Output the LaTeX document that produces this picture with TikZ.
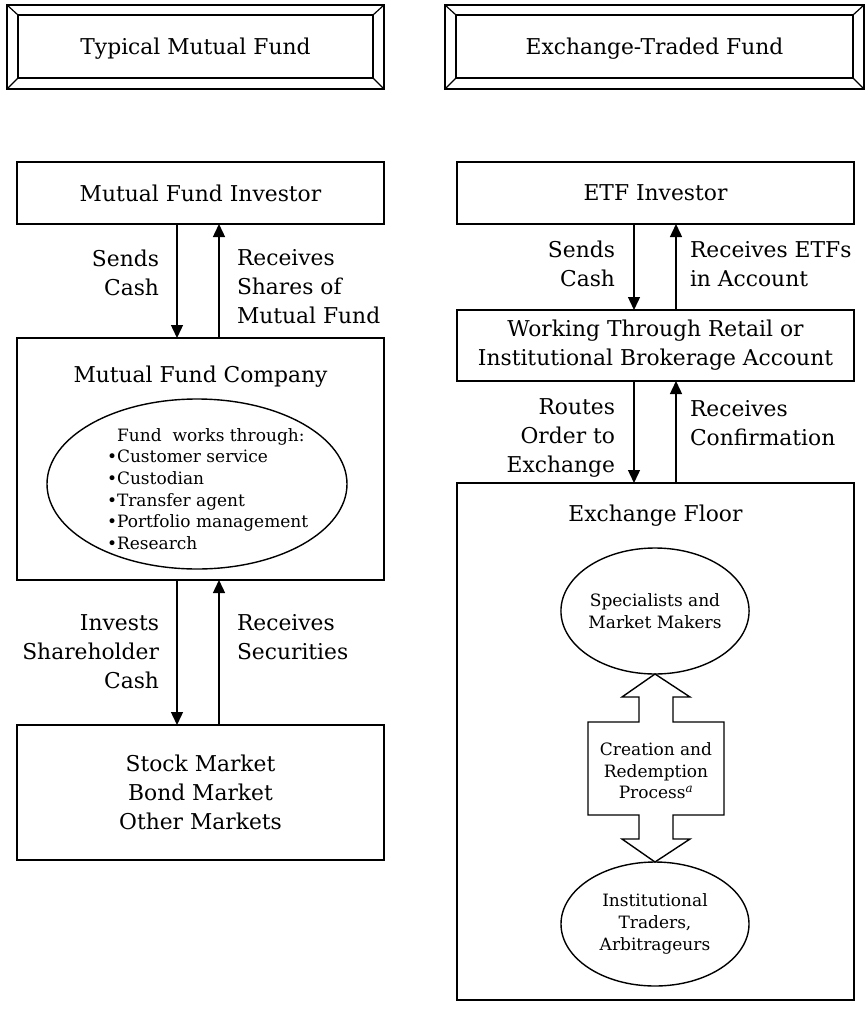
\documentclass[tikz,border=0pt]{standalone}
\usepackage{fontspec}
\setmainfont{DejaVu Serif}
\usetikzlibrary{arrows.meta,calc,shapes.geometric}
\newcommand\mainsize{\fontsize{21.8}{29}\selectfont}
\newcommand\ovalsize{\fontsize{17}{21.6}\selectfont}
\begin{document}
\begin{tikzpicture}[x=1pt,y=-1pt,
  every node/.style={inner sep=0pt, outer sep=0pt},
  frame/.style={draw, line width=1.6pt},
  bevel/.style={line width=1.2pt},
  box/.style={draw, line width=1.6pt, font=\mainsize, align=center},
  oval/.style={draw, ellipse, line width=1.4pt, font=\ovalsize, align=center},
  lbl/.style={font=\mainsize},
  flow/.style={line width=1.4pt, -{Triangle[length=13pt,width=12pt]}},
  bigarrow/.style={draw, line width=1.4pt, fill=white}
]
\path[use as bounding box] (0,0) rectangle (865,1009);

% ---------- bevelled title panels ----------
\foreach \name/\cx/\w/\txt in {t1/195.5/377/Typical Mutual Fund, t2/654.5/419/Exchange-Traded Fund}{
  \node[frame, minimum width=\w pt, minimum height=84pt] (\name) at (\cx,47) {};
  \node[lbl] (\name txt) at (\cx,49) {\txt};
  \coordinate (\name a) at ($(\name.north west)+(11,10)$);
  \coordinate (\name b) at ($(\name.south east)+(-11,-11)$);
  \draw[bevel] (\name a) rectangle (\name b);
  \draw[bevel] (\name.north west) -- (\name a);
  \draw[bevel] (\name.north east) -- (\name b |- \name a);
  \draw[bevel] (\name.south west) -- (\name a |- \name b);
  \draw[bevel] (\name.south east) -- (\name b);
}

% ---------- mutual fund side ----------
\node[box, minimum width=367pt, minimum height=62pt] (mfi) at (200.5,193) {Mutual Fund Investor};
\node[box, minimum width=367pt, minimum height=242pt] (mfc) at (200.5,459) {};
\node[lbl] (mfclbl) at (200.5,377) {Mutual Fund Company};
\node[oval, minimum width=300pt, minimum height=170pt] (svc) at (197,484) {};
\node[font=\ovalsize, align=left, anchor=west] (svctxt) at (107,489)
  {\hspace*{0.6em}Fund\ \ works through:\\•Customer service\\•Custodian\\•Transfer agent\\•Portfolio management\\•Research};
\node[box, minimum width=367pt, minimum height=135pt] (mkt) at (200.5,792.5)
  {Stock Market\\Bond Market\\Other Markets};

\coordinate (la) at (177,0);
\coordinate (lb) at (219,0);
\draw[flow] (la |- mfi.south) -- (la |- mfc.north);
\draw[flow] (lb |- mfc.north) -- (lb |- mfi.south);
\draw[flow] (la |- mfc.south) -- (la |- mkt.north);
\draw[flow] (lb |- mkt.north) -- (lb |- mfc.south);

\node[lbl, align=right, anchor=east] (sendl) at (159,272.5) {Sends\\Cash};
\node[lbl, align=left, anchor=west] (recvl) at (237,287) {Receives\\Shares of\\Mutual Fund};
\node[lbl, align=right, anchor=east] (invl) at (159,651.5) {Invests\\Shareholder\\Cash};
\node[lbl, align=left, anchor=west] (secl) at (237,637) {Receives\\Securities};

% ---------- ETF side ----------
\node[box, minimum width=397pt, minimum height=62pt] (etfi) at (655.5,193) {ETF Investor};
\node[box, minimum width=397pt, minimum height=71pt] (brk) at (655.5,345.5)
  {Working Through Retail or\\Institutional Brokerage Account};
\node[box, minimum width=397pt, minimum height=517pt] (flr) at (655.5,741.5) {};
\node[lbl] (flrlbl) at (655.5,516) {Exchange Floor};

\node[oval, minimum width=188pt, minimum height=126pt] (spec) at (655,611) {Specialists and\\Market Makers};
\node[oval, minimum width=188pt, minimum height=124pt] (inst) at (655,924) {Institutional\\Traders,\\Arbitrageurs};

% creation / redemption double-headed block arrow
\draw[bigarrow] (spec.south) -- (690,697) -- (673,697) -- (673,722) -- (724,722) -- (724,815)
  -- (673,815) -- (673,839) -- (690,839) -- (inst.north) -- (622,839) -- (639,839) -- (639,815)
  -- (588,815) -- (588,722) -- (639,722) -- (639,697) -- (622,697) -- cycle;
\node[font=\ovalsize, align=center] (crp) at (656,771)
  {Creation and\\Redemption\\Process\textsuperscript{\itshape a}};

\coordinate (ra) at (634,0);
\coordinate (rb) at (676,0);
\draw[flow] (ra |- etfi.south) -- (ra |- brk.north);
\draw[flow] (rb |- brk.north) -- (rb |- etfi.south);
\draw[flow] (ra |- brk.south) -- (ra |- flr.north);
\draw[flow] (rb |- flr.north) -- (rb |- brk.south);

\node[lbl, align=right, anchor=east] (sendr) at (615,264) {Sends\\Cash};
\node[lbl, align=left, anchor=west] (recvr) at (690,264) {Receives ETFs\\in Account};
\node[lbl, align=right, anchor=east] (route) at (615,437.5) {Routes\\Order to\\Exchange};
\node[lbl, align=left, anchor=west] (conf) at (690,423.5) {Receives\\Confirmation};
\end{tikzpicture}
\end{document}
